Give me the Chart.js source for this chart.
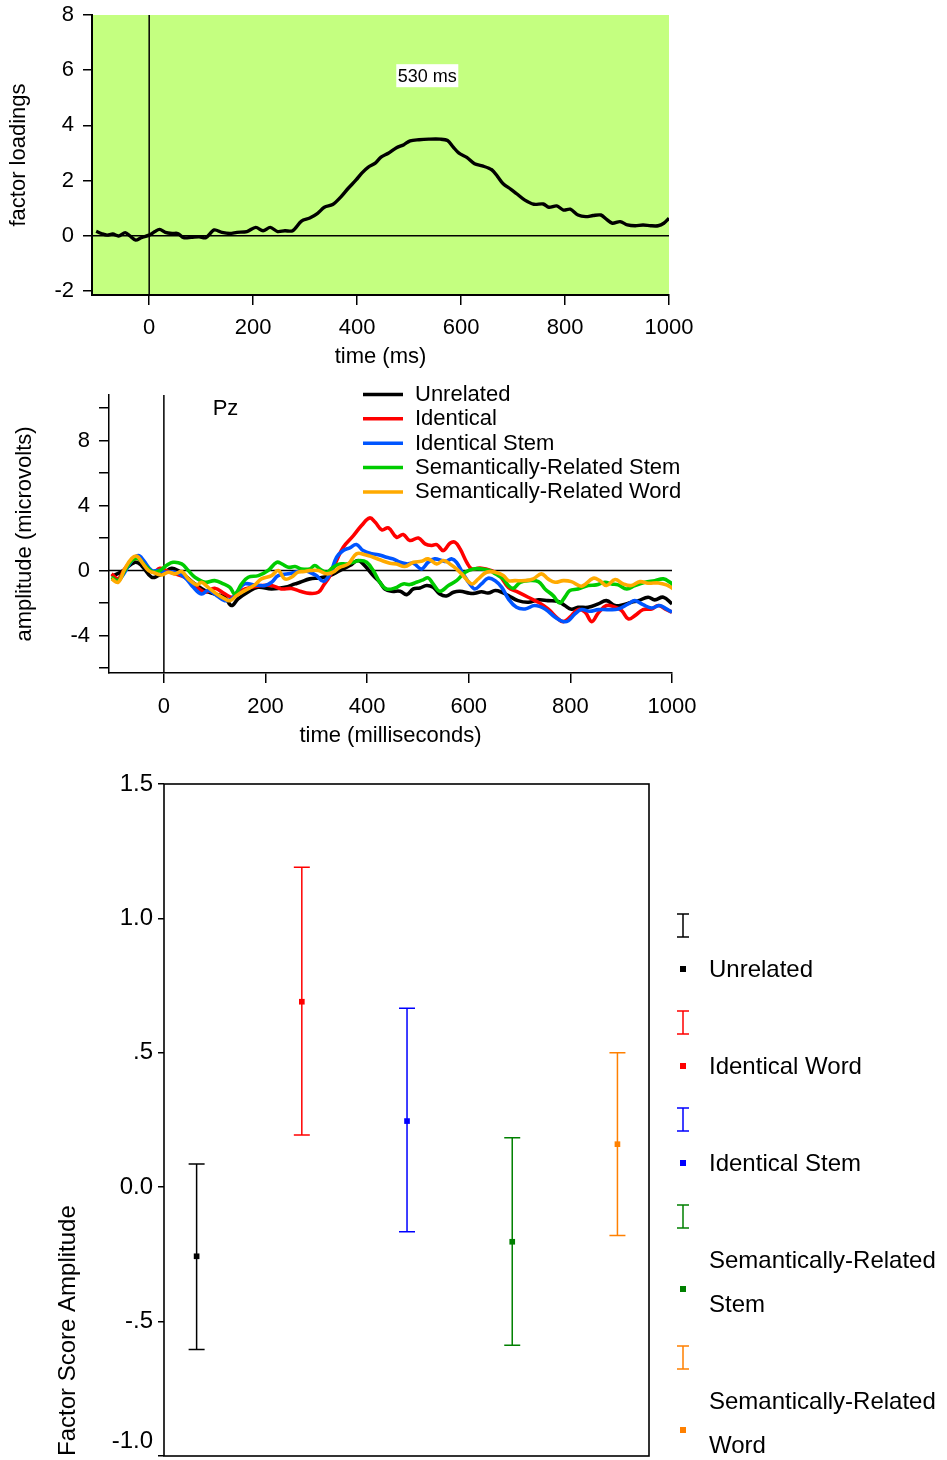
<!DOCTYPE html>
<html>
<head>
<meta charset="utf-8">
<script src="https://cdn.jsdelivr.net/npm/chart.js@4"></script>
<style>
  body { margin: 0; background: #fff; }
  #page { position: relative; width: 947px; height: 1460px; overflow: hidden; }
  .panel { position: absolute; left: 0; }
</style>
</head>
<body>
<div id="page">
  <div class="panel" style="top:0;width:700px;height:370px"><canvas id="loadings"></canvas></div>
  <div class="panel" style="top:380px;width:700px;height:370px"><canvas id="erp"></canvas></div>
  <div class="panel" style="top:760px;width:947px;height:700px"><canvas id="scores"></canvas></div>
</div>
<script>
// ---- factor loadings (ms, loading) ----
const loadTimes = [
  -102, -92, -81, -70, -59, -46, -37, -26, -15, 0,
  11, 20, 31, 44, 55, 66, 81, 96, 109, 125,
  140, 155, 169, 188, 205, 219, 233, 247, 261, 276,
  293, 309, 324, 337, 353, 368, 383, 398, 409, 421,
  435, 446, 460, 475, 490, 502, 519, 538, 560, 574,
  585, 596, 611, 626, 641, 659, 670, 681, 696, 707,
  722, 740, 758, 769, 784, 797, 810, 825, 840, 854,
  869, 880, 891, 906, 920, 935, 950, 965, 979, 990, 1000];
const loadValues = [
  0.16, 0.08, 0.02, 0.06, -0.01, 0.11, -0.01, -0.16, -0.07, 0.02,
  0.15, 0.23, 0.12, 0.08, 0.08, -0.07, -0.06, -0.04, -0.07, 0.21,
  0.12, 0.08, 0.12, 0.15, 0.30, 0.18, 0.30, 0.15, 0.18, 0.18,
  0.53, 0.64, 0.81, 1.03, 1.13, 1.39, 1.72, 2.02, 2.27, 2.48,
  2.63, 2.85, 2.99, 3.18, 3.30, 3.44, 3.48, 3.50, 3.50, 3.45,
  3.21, 2.99, 2.84, 2.61, 2.53, 2.39, 2.15, 1.88, 1.68, 1.52,
  1.30, 1.14, 1.15, 1.03, 1.08, 0.93, 0.96, 0.75, 0.69, 0.73,
  0.75, 0.59, 0.45, 0.51, 0.39, 0.36, 0.39, 0.36, 0.36, 0.45, 0.63];
const loadTicks = [-2, 0, 2, 4, 6, 8];
const timeTicks = [0, 200, 400, 600, 800, 1000];
const peakLabel = '530 ms';
const peakLabelAt = [535, 5.8];

// ---- grand-average ERPs at Pz (ms, microvolts) ----
const unrelatedT = [-103, -82, -57, -44, -24, -11, 2, 15, 28, 41, 61, 81, 100, 120, 133, 146, 165, 185, 212, 238,
  258, 268, 287, 307, 327, 346, 366, 382, 395, 412, 425, 435, 448, 465, 478, 491, 504, 517, 530, 543,
  556, 570, 583, 602, 612, 625, 638, 652, 665, 678, 697, 717, 737, 756, 776, 789, 802, 815, 835, 855,
  871, 888, 904, 920, 934, 953, 966, 983, 1000];
const unrelatedV = [-0.35, -0.05, 0.51, 0.31, -0.41, -0.31, -0.1, 0.14, 0.0, -0.3, -0.82, -1.23, -1.44, -1.64, -2.15, -1.74, -1.33, -1.03, -1.13, -1.03,
  -0.82, -0.72, -0.51, -0.45, -0.31, 0.0, 0.31, 0.62, 0.31, -0.31, -0.72, -1.13, -1.27, -1.27, -1.48, -1.13, -1.07, -0.92, -1.03, -1.44,
  -1.56, -1.33, -1.27, -1.4, -1.4, -1.3, -1.38, -1.23, -1.33, -1.54, -1.85, -1.95, -1.8, -1.85, -1.9, -2.15, -2.38, -2.26, -2.26, -2.05,
  -1.85, -2.15, -2.1, -1.95, -1.85, -1.64, -1.8, -1.64, -2.05];

const identicalT = [-103, -90, -77, -63, -50, -37, -21, -8, 5, 22, 41, 61, 81, 100, 120, 136, 153, 172, 192, 212,
  231, 251, 268, 287, 304, 314, 327, 340, 353, 373, 389, 405, 416, 429, 442, 458, 471, 484, 501, 514,
  527, 537, 550, 563, 573, 583, 596, 606, 622, 645, 661, 678, 697, 717, 737, 756, 776, 786, 799, 815,
  829, 842, 855, 871, 888, 901, 914, 927, 943, 960, 973, 989, 1000];
const identicalV = [-0.2, -0.5, 0.1, 0.62, 0.72, 0.31, -0.1, 0.14, 0.0, -0.2, -0.41, -0.92, -1.33, -1.09, -1.44, -1.64, -1.23, -1.03, -0.92, -0.92,
  -1.13, -1.1, -1.27, -1.4, -1.33, -0.92, -0.31, 0.62, 1.44, 2.15, 2.77, 3.24, 2.97, 2.5, 2.63, 2.05, 2.22, 1.85, 2.0, 1.64,
  1.54, 1.6, 1.23, 1.68, 1.74, 1.33, 0.51, 0.1, 0.16, 0.0, -0.31, -1.03, -1.33, -1.64, -1.95, -2.36, -2.97, -3.14, -2.87, -2.4,
  -2.56, -3.14, -2.6, -2.15, -2.26, -2.46, -2.97, -2.77, -2.4, -2.36, -2.15, -2.4, -2.56];

const identStemT = [-103, -90, -77, -63, -50, -40, -24, -11, 5, 22, 41, 58, 74, 87, 104, 120, 133, 146, 159, 179,
  199, 212, 225, 245, 264, 277, 287, 300, 314, 327, 340, 353, 366, 379, 392, 409, 422, 438, 451, 465,
  478, 491, 507, 520, 533, 547, 556, 566, 576, 589, 602, 612, 625, 638, 652, 665, 678, 694, 711, 730,
  750, 770, 786, 796, 809, 822, 838, 855, 874, 894, 914, 927, 943, 960, 976, 989, 1000];
const identStemV = [-0.51, -0.62, -0.1, 0.62, 0.92, 0.62, 0.0, 0.0, -0.1, -0.1, -0.41, -1.03, -1.44, -1.23, -1.54, -1.85, -1.74, -1.23, -0.82, -0.88,
  -0.92, -0.72, -0.31, -0.2, -0.05, 0.0, -0.1, -0.31, -0.66, -0.2, 0.82, 1.23, 1.4, 1.6, 1.23, 1.03, 0.98, 0.82, 0.72, 0.51,
  0.41, 0.45, 0.1, 0.51, 0.72, 0.62, 0.57, 0.72, 0.51, -0.2, -0.82, -1.13, -0.82, -0.47, -0.62, -1.03, -1.74, -2.26, -2.36, -2.15,
  -2.36, -2.87, -3.14, -3.08, -2.67, -2.4, -2.5, -2.4, -2.4, -2.36, -2.05, -1.85, -2.1, -2.3, -2.15, -2.36, -2.56];

const semStemT = [-103, -90, -77, -63, -50, -37, -21, -8, 5, 18, 35, 48, 61, 81, 100, 117, 130, 140, 153, 166,
  186, 205, 222, 232, 245, 258, 271, 287, 297, 307, 320, 333, 346, 359, 373, 386, 399, 412, 425, 438,
  455, 471, 484, 497, 510, 520, 530, 543, 560, 576, 593, 609, 625, 642, 652, 668, 678, 688, 701, 717,
  737, 750, 766, 779, 789, 799, 815, 835, 851, 868, 881, 894, 911, 927, 947, 966, 983, 996, 1003];
const semStemV = [-0.41, -0.62, 0.0, 0.62, 0.72, 0.31, -0.1, 0.0, 0.31, 0.51, 0.41, 0.0, -0.41, -0.72, -0.62, -0.82, -1.03, -1.44, -0.82, -0.41,
  -0.31, 0.0, 0.51, 0.41, 0.2, 0.25, 0.1, 0.1, 0.31, 0.1, -0.1, 0.2, 0.41, 0.41, 0.51, 0.62, 0.51, 0.0, -0.72, -1.13,
  -1.07, -0.82, -0.86, -0.72, -0.57, -0.45, -0.82, -1.27, -0.92, -0.62, -0.1, 0.1, 0.1, 0.0, -0.2, -0.51, -0.92, -1.09, -0.72, -0.62,
  -0.68, -1.13, -1.54, -1.99, -1.64, -1.23, -1.13, -0.92, -0.88, -0.72, -0.82, -0.88, -1.13, -0.92, -0.72, -0.62, -0.51, -0.72, -0.92];

const semWordT = [-103, -90, -77, -63, -53, -43, -30, -17, -4, 9, 22, 35, 48, 65, 74, 87, 104, 120, 130, 143,
  159, 179, 192, 212, 225, 238, 251, 264, 277, 287, 304, 320, 333, 346, 363, 379, 396, 412, 429, 445,
  458, 474, 491, 507, 520, 537, 550, 563, 576, 589, 606, 619, 635, 652, 668, 678, 691, 711, 727, 743,
  756, 770, 786, 802, 822, 845, 858, 871, 888, 904, 920, 937, 953, 973, 989, 1003];
const semWordV = [-0.51, -0.72, 0.1, 0.76, 0.88, 0.51, 0.0, -0.16, -0.27, -0.1, -0.2, -0.06, -0.51, -0.88, -0.72, -1.03, -1.44, -1.74, -1.85, -1.54,
  -1.23, -0.88, -0.51, -0.31, 0.0, -0.51, -0.41, -0.1, -0.06, 0.0, 0.0, -0.2, -0.1, 0.2, 0.41, 1.03, 0.98, 0.82, 0.62, 0.45,
  0.41, 0.25, 0.51, 0.57, 0.72, 0.41, 0.62, 0.41, 0.1, -0.31, -0.82, -0.51, -0.1, -0.1, -0.3, -0.62, -0.62, -0.62, -0.51, -0.2,
  -0.51, -0.72, -0.62, -0.68, -0.96, -0.47, -0.62, -0.92, -0.55, -0.82, -0.92, -0.68, -0.78, -0.76, -0.88, -1.13];

const erpTicks = [-6, -4, -2, 0, 2, 4, 6, 8, 10];
const siteLabel = 'Pz';

// ---- factor scores per condition ----
const scoreNames = ['Unrelated', 'Identical Word', 'Identical Stem', 'Semantically-Related Stem', 'Semantically-Related Word'];
const scoreMean = [-0.257, 0.690, 0.246, -0.203, 0.160];
const scoreHigh = [0.086, 1.190, 0.666, 0.184, 0.500];
const scoreLow = [-0.604, 0.194, -0.166, -0.588, -0.180];
const scoreTicks = [-1, -0.5, 0, 0.5, 1, 1.5];
const scoreTickText = ['-1.0', '-.5', '0.0', '.5', '1.0', '1.5'];
const scoreColors = ['#000000', '#ff0000', '#0000ff', '#008000', '#ff8000'];

Chart.defaults.font.family = '"Liberation Sans", Arial, sans-serif';
Chart.defaults.color = '#000';
Chart.defaults.animation = false;
Chart.defaults.plugins.legend.display = false;
Chart.defaults.plugins.tooltip.enabled = false;

const FONT = '"Liberation Sans", Arial, sans-serif';
const pts = (ts, vs) => ts.map((t, i) => ({ x: t, y: vs[i] }));
const fixTicks = list => s => { s.ticks = list.map(v => ({ value: v })); };
// fixed axis boxes so the plot areas sit where the layout wants them
const fitWidth = w => s => { s.width = w; s.paddingTop = 0; s.paddingBottom = 0; };
const fitHeight = h => s => { s.height = h; s.paddingLeft = 0; s.paddingRight = 0; };

const zeroLines = {
  id: 'zeroLines',
  beforeDatasetsDraw(chart) {
    const { ctx, chartArea: a, scales: { x, y } } = chart;
    const x0 = x.getPixelForValue(0), y0 = y.getPixelForValue(0);
    ctx.save();
    ctx.strokeStyle = '#000';
    ctx.lineWidth = 1.5;
    ctx.beginPath();
    ctx.moveTo(a.left, y0); ctx.lineTo(a.right, y0);
    ctx.moveTo(x0, a.top); ctx.lineTo(x0, a.bottom);
    ctx.stroke();
    ctx.restore();
  }
};

// ---------- top: factor loadings ----------
new Chart(document.getElementById('loadings'), {
  type: 'line',
  data: {
    datasets: [{
      data: pts(loadTimes, loadValues),
      borderColor: '#000',
      borderWidth: 3.4,
      pointRadius: 0,
      tension: 0.3,
      borderJoinStyle: 'round'
    }]
  },
  options: {
    responsive: true,
    maintainAspectRatio: false,
    layout: { padding: { top: 15, right: 31, bottom: 0, left: 0 } },
    scales: {
      x: {
        type: 'linear', min: -110, max: 1000,
        afterBuildTicks: fixTicks(timeTicks),
        afterFit: fitHeight(75),
        grid: { drawOnChartArea: false, tickLength: 10, color: '#000', lineWidth: 1.5 },
        border: { color: '#000', width: 2 },
        ticks: { font: { size: 22 }, padding: 10, autoSkip: false, maxRotation: 0, callback: v => String(v) },
        title: { display: true, text: 'time (ms)', font: { size: 22 }, padding: { top: 0, bottom: 0 } }
      },
      y: {
        min: -2.15, max: 8,
        afterBuildTicks: fixTicks(loadTicks),
        afterFit: fitWidth(92),
        grid: { drawOnChartArea: false, tickLength: 9, color: '#000', lineWidth: 1.5 },
        border: { color: '#000', width: 2 },
        ticks: { font: { size: 22 }, padding: 9 },
        title: { display: true, text: 'factor loadings', font: { size: 22 }, padding: { top: 6 } }
      }
    }
  },
  plugins: [zeroLines, {
    id: 'greenPlot',
    beforeDraw(chart) {
      const { ctx, chartArea: a } = chart;
      ctx.save();
      ctx.fillStyle = '#c4ff80';
      ctx.fillRect(a.left, a.top, a.width, a.height);
      ctx.restore();
    }
  }, {
    id: 'peakNote',
    afterDatasetsDraw(chart) {
      const { ctx, scales: { x, y } } = chart;
      const px = x.getPixelForValue(peakLabelAt[0]), py = y.getPixelForValue(peakLabelAt[1]);
      ctx.save();
      ctx.font = '18px ' + FONT;
      const w = ctx.measureText(peakLabel).width + 3;
      ctx.fillStyle = '#fff';
      ctx.fillRect(px - w / 2, py - 11.5, w, 23);
      ctx.fillStyle = '#000';
      ctx.textAlign = 'center';
      ctx.textBaseline = 'middle';
      ctx.fillText(peakLabel, px, py + 1);
      ctx.restore();
    }
  }]
});

// ---------- middle: ERP waveforms ----------
const erpSeries = [
  { label: 'Unrelated', t: unrelatedT, v: unrelatedV, color: '#000000', order: 5 },
  { label: 'Identical', t: identicalT, v: identicalV, color: '#ff0000', order: 4 },
  { label: 'Identical Stem', t: identStemT, v: identStemV, color: '#0055ff', order: 3 },
  { label: 'Semantically-Related Stem', t: semStemT, v: semStemV, color: '#00cc00', order: 2 },
  { label: 'Semantically-Related Word', t: semWordT, v: semWordV, color: '#ffaa00', order: 1 }
];

new Chart(document.getElementById('erp'), {
  type: 'line',
  data: {
    datasets: erpSeries.map(s => ({
      label: s.label,
      data: pts(s.t, s.v),
      borderColor: s.color,
      borderWidth: 3.6,
      pointRadius: 0,
      order: s.order,
      tension: 0.4,
      borderJoinStyle: 'round'
    }))
  },
  options: {
    responsive: true,
    maintainAspectRatio: false,
    layout: { padding: { top: 15, right: 28, bottom: 0, left: 0 } },
    scales: {
      x: {
        type: 'linear', min: -108, max: 1000,
        afterBuildTicks: fixTicks(timeTicks),
        afterFit: fitHeight(77),
        grid: { drawOnChartArea: false, tickLength: 10, color: '#000', lineWidth: 1.5 },
        border: { color: '#000', width: 1.5 },
        ticks: { font: { size: 22 }, padding: 11, autoSkip: false, maxRotation: 0, callback: v => String(v) },
        title: { display: true, text: 'time (milliseconds)', font: { size: 22 }, padding: { top: 0, bottom: 1 } }
      },
      y: {
        min: -6.3, max: 10.8,
        afterBuildTicks: fixTicks(erpTicks),
        afterFit: fitWidth(109),
        grid: { drawOnChartArea: false, tickLength: 10, color: '#000', lineWidth: 1.5 },
        border: { color: '#000', width: 1.5 },
        ticks: { font: { size: 22 }, padding: 9, callback: v => (v % 4 === 0 ? String(v) : '') },
        title: { display: true, text: 'amplitude (microvolts)', font: { size: 22 }, padding: { top: 12 } }
      }
    }
  },
  plugins: [zeroLines, {
    id: 'lineLegend',
    afterDraw(chart) {
      const { ctx } = chart;
      ctx.save();
      ctx.font = '22px ' + FONT;
      ctx.textBaseline = 'middle';
      ctx.lineWidth = 3.5;
      chart.data.datasets.forEach((ds, i) => {
        const y = 14.5 + i * 24.35;
        ctx.strokeStyle = ds.borderColor;
        ctx.beginPath();
        ctx.moveTo(363, y); ctx.lineTo(403, y);
        ctx.stroke();
        ctx.fillStyle = '#000';
        ctx.fillText(ds.label, 415, y + 0.5);
      });
      // recording site
      const { x, y } = chart.scales;
      ctx.fillText(siteLabel, x.getPixelForValue(96), y.getPixelForValue(9.95));
      ctx.restore();
    }
  }]
});

// ---------- bottom: factor scores with error bars ----------
function wrapText(ctx, text, maxW) {
  if (ctx.measureText(text).width <= maxW) return [text];
  const words = text.split(' ');
  const lines = [];
  let cur = '';
  words.forEach(w => {
    const next = cur ? cur + ' ' + w : w;
    if (cur && ctx.measureText(next).width > maxW) { lines.push(cur); cur = w; }
    else cur = next;
  });
  lines.push(cur);
  return lines;
}

new Chart(document.getElementById('scores'), {
  type: 'scatter',
  data: {
    datasets: [{
      data: scoreMean.map((m, i) => ({ x: i + 1, y: m })),
      pointStyle: 'rect',
      pointRadius: 4,
      pointBackgroundColor: scoreColors,
      pointBorderColor: scoreColors,
      pointBorderWidth: 0
    }]
  },
  options: {
    responsive: true,
    maintainAspectRatio: false,
    layout: { padding: { top: 24, right: 298, bottom: 2.7, left: 0 } },
    scales: {
      x: { type: 'linear', min: 0.69, max: 5.3, display: false },
      y: {
        min: -1, max: 1.5,
        afterBuildTicks: fixTicks(scoreTicks),
        afterFit: fitWidth(164),
        grid: { drawOnChartArea: false, tickLength: 6, color: '#000', lineWidth: 1.5 },
        border: { display: false },
        ticks: {
          font: { size: 24 }, padding: 5,
          callback: v => {
            const text = scoreTickText[scoreTicks.indexOf(v)];
            // an empty second line lifts the lowest label clear of the page edge
            return v === scoreTicks[0] ? [text, ''] : text;
          }
        },
        title: { display: true, text: 'Factor Score Amplitude', align: 'start', font: { size: 24 }, padding: { top: 54 } }
      }
    }
  },
  plugins: [{
    id: 'frameAndBars',
    beforeDatasetsDraw(chart) {
      const { ctx, chartArea: a, scales: { x, y } } = chart;
      ctx.save();
      ctx.strokeStyle = '#000';
      ctx.lineWidth = 1.6;
      ctx.strokeRect(a.left, a.top, a.width, a.height);
      ctx.lineWidth = 1.5;
      scoreMean.forEach((m, i) => {
        const px = x.getPixelForValue(i + 1);
        const top = y.getPixelForValue(scoreHigh[i]);
        const bot = y.getPixelForValue(scoreLow[i]);
        ctx.strokeStyle = scoreColors[i];
        ctx.beginPath();
        ctx.moveTo(px, top); ctx.lineTo(px, bot);
        ctx.moveTo(px - 8, top); ctx.lineTo(px + 8, top);
        ctx.moveTo(px - 8, bot); ctx.lineTo(px + 8, bot);
        ctx.stroke();
      });
      ctx.restore();
    },
    afterDraw(chart) {
      const { ctx } = chart;
      const symX = 683, textX = 709;
      let y = 154;
      ctx.save();
      ctx.font = '24px ' + FONT;
      ctx.textBaseline = 'middle';
      ctx.lineWidth = 1.5;
      scoreNames.forEach((name, i) => {
        const col = scoreColors[i];
        ctx.strokeStyle = col;
        ctx.beginPath();
        ctx.moveTo(symX, y); ctx.lineTo(symX, y + 23);
        ctx.moveTo(symX - 6, y); ctx.lineTo(symX + 6, y);
        ctx.moveTo(symX - 6, y + 23); ctx.lineTo(symX + 6, y + 23);
        ctx.stroke();
        const lines = wrapText(ctx, name, chart.width - textX - 4);
        ctx.fillStyle = '#000';
        lines.forEach((ln, k) => ctx.fillText(ln, textX, y + 56 + k * 44.5));
        const my = lines.length > 1 ? y + 84 : y + 55;
        ctx.fillStyle = col;
        ctx.fillRect(symX - 3, my - 3, 6, 6);
        y += lines.length > 1 ? 141 : 97;
      });
      ctx.restore();
    }
  }]
});
</script>
</body>
</html>
